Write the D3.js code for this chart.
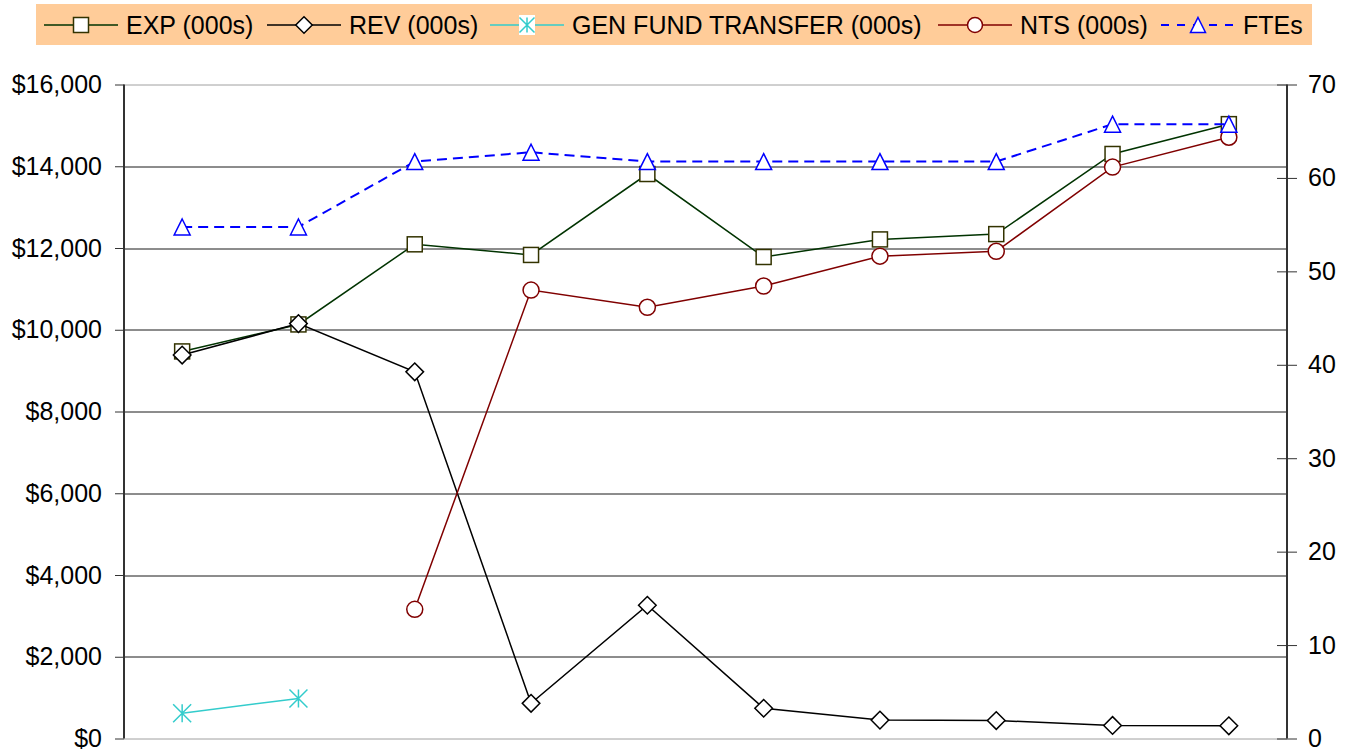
<!DOCTYPE html>
<html>
<head>
<meta charset="utf-8">
<script src="https://cdn.jsdelivr.net/npm/d3@7"></script>
<style>
  body { margin: 0; background: #fff; }
  svg { display: block; font-family: "Liberation Sans", Arial, sans-serif; }
  .axis text { font-size: 25px; fill: #000; }
</style>
</head>
<body>
<svg width="1356" height="755"></svg>
<script>
// data
const periods = ['1', '2', '3', '4', '5', '6', '7', '8', '9', '10'];
const exp = [9470, 10130, 12090, 11830, 13810, 11780, 12210, 12340, 14300, 15030];
const rev = [9380, 10150, 8970, 860, 3260, 740, 450, 440, 320, 310];
const genFund = [620, 980, null, null, null, null, null, null, null, null];
const nts = [null, null, 3160, 10970, 10550, 11070, 11800, 11920, 13980, 14710];
const ftes = [54.75, 54.75, 61.75, 62.75, 61.75, 61.75, 61.75, 61.75, 65.75, 65.75];
const leftTicks = [0, 2000, 4000, 6000, 8000, 10000, 12000, 14000, 16000];
const rightTicks = [0, 10, 20, 30, 40, 50, 60, 70];

const series = [
  { name: 'EXP (000s)', values: exp, axis: 'left', color: '#003300', mark: 'square', stroke: '#333300' },
  { name: 'REV (000s)', values: rev, axis: 'left', color: '#000000', mark: 'diamond', stroke: '#000000' },
  { name: 'GEN FUND TRANSFER (000s)', values: genFund, axis: 'left', color: '#33cccc', mark: 'star', stroke: '#33cccc' },
  { name: 'NTS (000s)', values: nts, axis: 'left', color: '#800000', mark: 'circle', stroke: '#800000' },
  { name: 'FTEs', values: ftes, axis: 'right', color: '#0000ff', mark: 'triangle', stroke: '#0000ff', dash: '10,6' }
];

const svg = d3.select('svg');
const margin = { left: 124, right: 69, top: 84.5, bottom: 16.5 };
const width = +svg.attr('width');
const height = +svg.attr('height');
const innerWidth = width - margin.left - margin.right;
const innerHeight = height - margin.top - margin.bottom;

const xScale = d3.scalePoint().domain(periods).range([0, innerWidth]).padding(0.5);
const yLeft = d3.scaleLinear().domain([0, 16000]).range([innerHeight, 0]);
const yRight = d3.scaleLinear().domain([0, 70]).range([innerHeight, 0]);

const g = svg.append('g').attr('transform', `translate(${margin.left},${margin.top})`);

// gridlines
g.append('g').selectAll('line')
  .data(leftTicks)
  .enter().append('line')
  .attr('x1', 0).attr('x2', innerWidth)
  .attr('y1', d => Math.round(yLeft(d)) + 0.5)
  .attr('y2', d => Math.round(yLeft(d)) + 0.5)
  .attr('stroke', d => (d === 0 || d === 16000) ? '#a0a0a0' : '#1a1a1a')
  .attr('stroke-width', 1);

// left axis
const yAxisL = d3.axisLeft(yLeft)
  .tickValues(leftTicks)
  .tickSize(9)
  .tickPadding(13)
  .tickFormat(d => '$' + d3.format(',')(d));
const yAxisLG = g.append('g').attr('class', 'axis').call(yAxisL);
yAxisLG.select('.domain').attr('stroke', '#333').attr('stroke-width', 2).attr('d', `M0,0V${innerHeight}`);
yAxisLG.selectAll('.tick line').attr('stroke', '#333');

// right axis
const yAxisR = d3.axisRight(yRight)
  .tickValues(rightTicks)
  .tickSize(10)
  .tickPadding(11);
const yAxisRG = g.append('g').attr('class', 'axis')
  .attr('transform', `translate(${innerWidth},0)`)
  .call(yAxisR);
yAxisRG.select('.domain').attr('stroke', '#333').attr('stroke-width', 2).attr('d', `M0,0V${innerHeight}`);
yAxisRG.selectAll('.tick line').attr('stroke', '#333').attr('x1', -10);

// marker shapes
function drawMarker(sel, type, stroke, s) {
  if (type === 'square') {
    sel.append('rect').attr('x', -s / 2).attr('y', -s / 2).attr('width', s).attr('height', s)
      .attr('fill', '#fff').attr('stroke', stroke).attr('stroke-width', 1.5);
  } else if (type === 'diamond') {
    const r = s * 0.55;
    sel.append('path').attr('d', `M0,${-r}L${r},0L0,${r}L${-r},0Z`)
      .attr('fill', '#fff').attr('stroke', stroke).attr('stroke-width', 1.5);
  } else if (type === 'circle') {
    sel.append('circle').attr('r', s / 2)
      .attr('fill', '#fff').attr('stroke', stroke).attr('stroke-width', 1.5);
  } else if (type === 'triangle') {
    const h = s;
    sel.append('path').attr('d', `M0,${-h / 2}L${s / 2},${h / 2}L${-s / 2},${h / 2}Z`)
      .attr('fill', '#fff').attr('stroke', stroke).attr('stroke-width', 1.5);
  } else if (type === 'star') {
    const r = s / 2;
    sel.append('path').attr('d', `M${-r},${-r}L${r},${r}M${-r},${r}L${r},${-r}M0,${-r}V${r}`)
      .attr('fill', 'none').attr('stroke', stroke).attr('stroke-width', 1.5);
  }
}

series.forEach(s => {
  const y = s.axis === 'left' ? yLeft : yRight;
  const pts = periods.map((p, i) => ({ p, v: s.values[i] })).filter(d => d.v != null);
  const line = d3.line().x(d => xScale(d.p)).y(d => y(d.v));
  g.append('path')
    .datum(pts)
    .attr('d', line)
    .attr('fill', 'none')
    .attr('stroke', s.color)
    .attr('stroke-width', s.dash ? 2 : 1.5)
    .attr('stroke-dasharray', s.dash || null);
  const size = s.mark === 'star' ? 18 : (s.mark === 'square' ? 15 : 16);
  g.append('g').selectAll('g')
    .data(pts)
    .enter().append('g')
    .attr('transform', d => `translate(${xScale(d.p)},${y(d.v)})`)
    .each(function() { drawMarker(d3.select(this), s.mark, s.stroke, size); });
});

// legend
const legendX = [44, 267, 490, 938, 1161];
const legend = svg.append('g');
legend.append('rect')
  .attr('x', 36).attr('y', 4).attr('width', 1276).attr('height', 41)
  .attr('fill', '#ffcc99');
series.forEach((s, i) => {
  const lg = legend.append('g').attr('transform', `translate(${legendX[i]},25)`);
  lg.append('line').attr('x1', 0).attr('x2', 74).attr('y1', 0).attr('y2', 0)
    .attr('stroke', s.color).attr('stroke-width', s.dash ? 2 : 1.5)
    .attr('stroke-dasharray', s.dash ? '8,8' : null);
  const m = lg.append('g').attr('transform', 'translate(37,0)');
  if (s.mark === 'star') {
    m.append('rect').attr('x', -8).attr('y', -10).attr('width', 16).attr('height', 20).attr('fill', '#fff');
  }
  drawMarker(m, s.mark, s.stroke, 15);
  lg.append('text')
    .attr('x', 82).attr('y', 0).attr('dy', '0.35em')
    .attr('font-size', 25)
    .text(s.name);
});
</script>
</body>
</html>
